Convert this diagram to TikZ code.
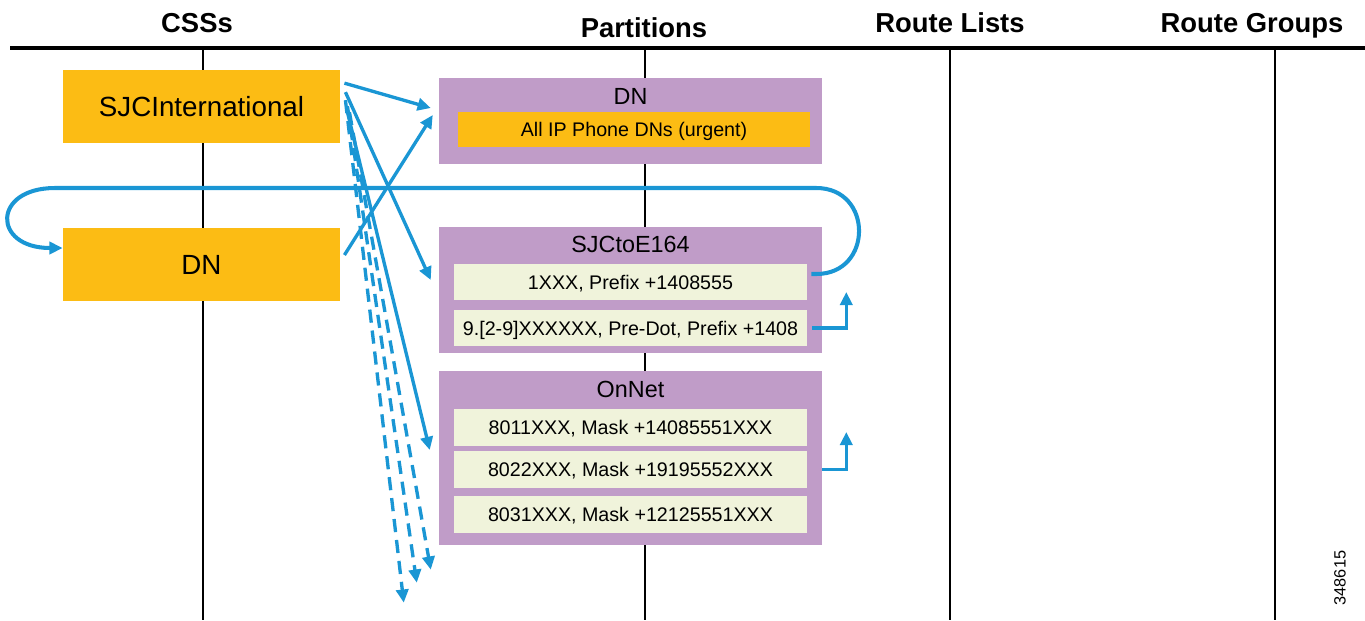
\documentclass[tikz,border=0pt]{standalone}
\usepackage{fontspec}
\setmainfont{Liberation Sans}
\usetikzlibrary{arrows.meta,calc}
\definecolor{cssorange}{RGB}{252,188,20}
\definecolor{partpurple}{RGB}{192,156,200}
\definecolor{rowcream}{RGB}{240,243,219}
\definecolor{linkblue}{RGB}{26,150,212}
\begin{document}
\begin{tikzpicture}[x=0.02cm,y=-0.02cm,
  header/.style={font=\bfseries\fontsize{15.6}{18}\selectfont,anchor=base,inner sep=0pt},
  boxtext/.style={text depth=0pt,inner sep=0pt,outer sep=0pt},
  cssbox/.style={boxtext,text height=11.3pt,fill=cssorange,minimum width={279*0.5669pt},minimum height={73*0.5669pt},font=\fontsize{15.8}{18}\selectfont},
  partbox/.style={fill=partpurple,inner sep=0pt,outer sep=0pt,minimum width={385*0.5669pt}},
  parttitle/.style={boxtext,text height=9.5pt,font=\fontsize{13.3}{16}\selectfont},
  rowbox/.style={boxtext,text height=8pt,fill=rowcream,minimum width={355*0.5669pt},minimum height={36*0.5669pt},font=\fontsize{11.2}{13}\selectfont},
  gridline/.style={line width=1.4pt,black},
  link/.style={draw=linkblue,line width=1.9pt,-{Triangle[length=7.5pt,width=7pt]}},
  dlink/.style={link,dash pattern=on 7.5pt off 4.5pt},
  looplink/.style={link,line width=2.3pt}
]
\useasboundingbox (0,0) rectangle (1365,620);

% grid
\draw[line width=1.8pt] (10,48) -- (1365,48);
\draw[gridline] (203,48) -- (203,620);
\draw[gridline] (645,48) -- (645,620);
\draw[gridline] (950,48) -- (950,620);
\draw[gridline] (1275,48) -- (1275,620);

% headers
\node[header] (hcss) at (197,32) {CSSs};
\node[header] (hpart) at (644,37) {Partitions};
\node[header] (hrl) at (950,32) {Route Lists};
\node[header] (hrg) at (1252,32) {Route Groups};

% CSS boxes
\node[cssbox] (sjci) at (201.5,106.5) {SJCInternational};
\node[cssbox] (dncss) at (201.5,264.5) {DN};

% partition DN
\node[partbox,minimum height={86*0.5669pt}] (pdn) at (630.5,121) {};
\node[parttitle] (pdnt) at (630.5,96) {DN};
\node[rowbox,fill=cssorange,minimum width={354*0.5669pt},minimum height={35*0.5669pt}] (pdnr) at (634,129.5) {All IP Phone DNs (urgent)};

% partition SJCtoE164
\node[partbox,minimum height={126*0.5669pt}] (e164) at (630.5,290) {};
\node[parttitle] (e164t) at (630.5,244) {SJCtoE164};
\node[rowbox] (r1) at (630.5,282) {1XXX, Prefix +1408555};
\node[rowbox] (r2) at (630.5,328) {9.[2-9]XXXXXX, Pre-Dot, Prefix +1408};

% partition OnNet
\node[partbox,minimum height={174*0.5669pt}] (onnet) at (630.5,458) {};
\node[parttitle] (onnett) at (630.5,389) {OnNet};
\node[rowbox,minimum height={37*0.5669pt}] (o1) at (630.5,427.5) {8011XXX, Mask +14085551XXX};
\node[rowbox,minimum height={37*0.5669pt}] (o2) at (630.5,469.5) {8022XXX, Mask +19195552XXX};
\node[rowbox,minimum height={37*0.5669pt}] (o3) at (630.5,514.5) {8031XXX, Mask +12125551XXX};

% connectors from SJCInternational
\draw[link] ($(sjci.north east)+(4,13)$) -- ($(pdn.west)+(-8,-13)$);
\draw[link] ($(sjci.north east)+(5,22)$) -- ($(e164.west)+(-8,-10)$);
\draw[link] ($(sjci.north east)+(7,42)$) -- ($(onnet.west)+(-9,-8)$);
\draw[dlink] ($(sjci.north east)+(5,30)$) -- ($(onnet.south west)+(-35,58)$);
\draw[dlink] ($(sjci.north east)+(7,36)$) -- ($(onnet.south west)+(-22,38)$);
\draw[dlink] ($(sjci.north east)+(9,42)$) -- ($(onnet.south west)+(-8,25)$);

% DN css to DN partition
\draw[link] ($(dncss.east)+(4,-9.5)$) -- ($(pdn.west)+(-6,-6)$);

% loop from 1XXX back to DN css
\draw[looplink] ($(r1.east)+(4,-8)$) -- ++(5,0) .. controls +(57,0) and +(57,0) .. ++(0,-86) -- (55,188) .. controls (-8,188) and (-8,248) .. ($(dncss.west)+(0,-16.5)$);

% small up arrows
\draw[link] ($(r2.east)+(5,0)$) -| ($(r2.east)+(39,-36)$);
\draw[link] (onnet.east |- o2.east) -| ($(o2.east)+(39,-37.5)$);

% figure id
\node[rotate=90,font=\fontsize{9.3}{11}\selectfont,inner sep=0pt] (figid) at (1340,578) {348615};
\end{tikzpicture}
\end{document}
